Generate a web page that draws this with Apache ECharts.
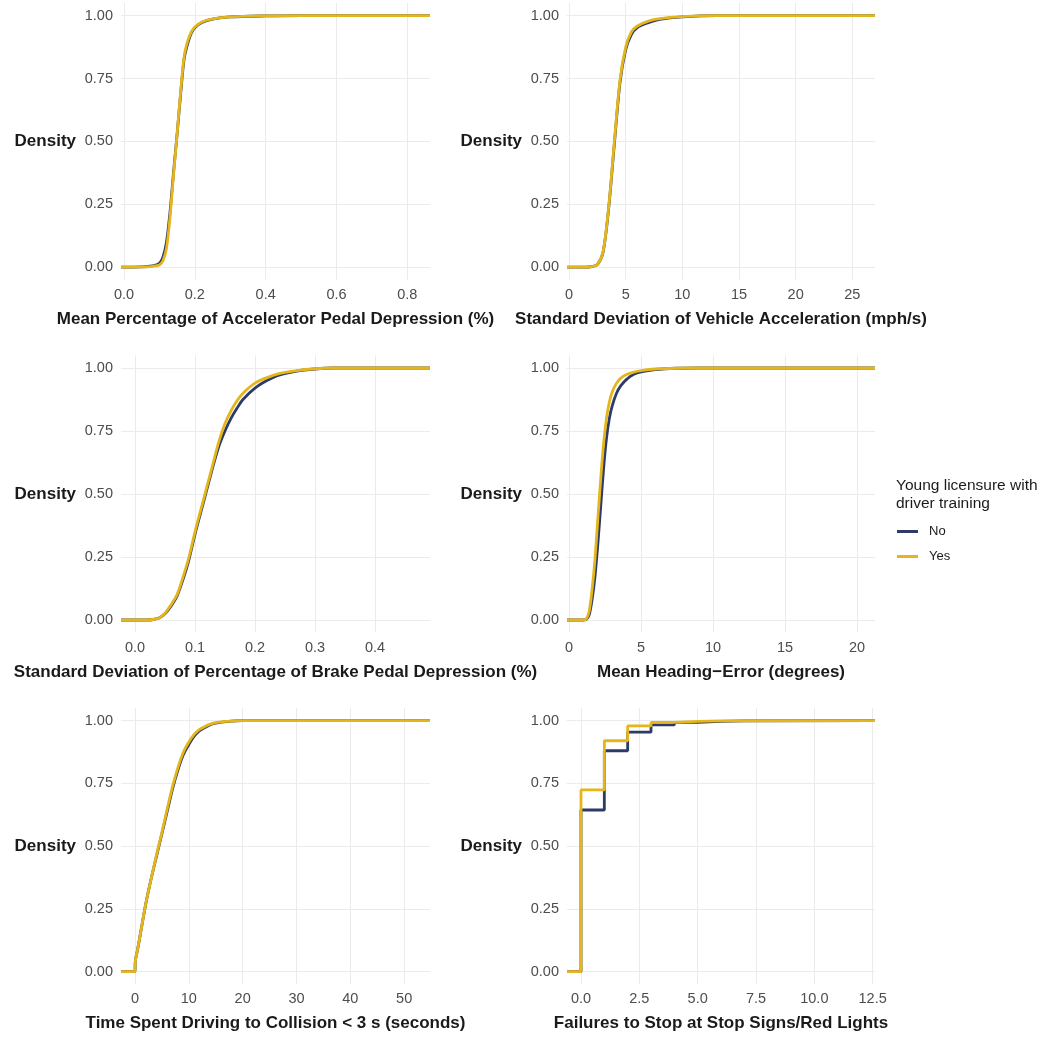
<!DOCTYPE html>
<html>
<head>
<meta charset="utf-8">
<script src="https://cdn.jsdelivr.net/npm/echarts@6/dist/echarts.min.js"></script>
<style>
html, body { margin: 0; padding: 0; background: #fff; }
#chart { width: 1048px; height: 1038px; }
</style>
</head>
<body>
<div id="chart"></div>
<script>
// ECDF readings per measure (x, share of drivers <= x)
var accelX   = [-0.0085, 0.05, 0.08, 0.10, 0.11, 0.12, 0.13, 0.14, 0.15, 0.16, 0.17, 0.18, 0.19, 0.20, 0.22, 0.25, 0.30, 0.40, 0.50, 0.864];
var accelNo  = [0, 0.001, 0.005, 0.015, 0.04, 0.10, 0.22, 0.38, 0.53, 0.69, 0.83, 0.89, 0.93, 0.952, 0.973, 0.986, 0.995, 0.999, 1, 1];
var accelYes = [0, 0.001, 0.003, 0.008, 0.025, 0.075, 0.20, 0.37, 0.53, 0.70, 0.84, 0.90, 0.935, 0.955, 0.975, 0.987, 0.995, 0.999, 1, 1];

var vaccX   = [-0.18, 1.5, 2.0, 2.5, 3.0, 3.5, 4.0, 4.5, 5.0, 5.5, 6.0, 7.0, 8.0, 10, 13, 27];
var vaccNo  = [0, 0, 0.002, 0.01, 0.058, 0.235, 0.49, 0.735, 0.865, 0.925, 0.952, 0.972, 0.985, 0.995, 1, 1];
var vaccYes = [0, 0, 0.002, 0.01, 0.06, 0.24, 0.50, 0.745, 0.875, 0.935, 0.958, 0.978, 0.988, 0.996, 1, 1];

var brakeX   = [-0.0233, 0.02, 0.03, 0.04, 0.05, 0.06, 0.07, 0.08, 0.09, 0.10, 0.11, 0.12, 0.13, 0.14, 0.15, 0.16, 0.17, 0.18, 0.20, 0.22, 0.24, 0.27, 0.30, 0.33, 0.4917];
var brakeNo  = [0, 0, 0.002, 0.008, 0.025, 0.055, 0.095, 0.16, 0.24, 0.34, 0.43, 0.52, 0.61, 0.69, 0.75, 0.80, 0.84, 0.875, 0.92, 0.95, 0.972, 0.988, 0.996, 1, 1];
var brakeYes = [0, 0, 0.002, 0.008, 0.027, 0.06, 0.10, 0.17, 0.25, 0.35, 0.44, 0.53, 0.62, 0.71, 0.78, 0.83, 0.87, 0.90, 0.94, 0.962, 0.978, 0.99, 0.997, 1, 1];

var headX   = [-0.14, 1.0, 1.2, 1.4, 1.6, 1.8, 2.0, 2.2, 2.4, 2.6, 2.8, 3.0, 3.3, 3.6, 4.0, 4.5, 5.0, 6.0, 7.5, 9.0, 21.25];
var headNo  = [0, 0, 0.002, 0.02, 0.08, 0.17, 0.30, 0.45, 0.60, 0.72, 0.80, 0.85, 0.90, 0.93, 0.955, 0.975, 0.985, 0.994, 0.999, 1, 1];
var headYes = [0, 0, 0.004, 0.035, 0.12, 0.24, 0.40, 0.56, 0.70, 0.80, 0.865, 0.905, 0.94, 0.96, 0.974, 0.984, 0.99, 0.996, 0.999, 1, 1];

var ttcX   = [-2.6, 0, 0.05, 0.5, 1, 2, 3, 4, 5, 6, 7, 8, 9, 10, 11, 12, 13, 14, 15, 17, 20, 54.8];
var ttcNo  = [0, 0, 0.04, 0.09, 0.15, 0.27, 0.37, 0.46, 0.55, 0.64, 0.73, 0.805, 0.865, 0.905, 0.938, 0.96, 0.973, 0.984, 0.99, 0.996, 1, 1];
var ttcYes = [0, 0, 0.04, 0.09, 0.15, 0.27, 0.37, 0.465, 0.555, 0.65, 0.74, 0.815, 0.875, 0.915, 0.945, 0.965, 0.977, 0.986, 0.992, 0.997, 1, 1];

var stopX   = [-0.6, 0, 1, 2, 3, 4, 5, 6, 7, 12.6];
var stopNo  = [0, 0.644, 0.88, 0.954, 0.983, 0.993, 0.997, 0.999, 1, 1];
var stopYes = [0, 0.724, 0.92, 0.979, 0.993, 0.997, 0.999, 0.999, 1, 1];

var densityTicks = [0, 0.25, 0.5, 0.75, 1];
var accelTicks = [0, 0.2, 0.4, 0.6, 0.8];
var vaccTicks = [0, 5, 10, 15, 20, 25];
var brakeTicks = [0, 0.1, 0.2, 0.3, 0.4];
var headTicks = [0, 5, 10, 15, 20];
var ttcTicks = [0, 10, 20, 30, 40, 50];
var stopTicks = [0, 2.5, 5, 7.5, 10, 12.5];

var groups = ['No', 'Yes'];
var colors = ['#2c3b68', '#e4b61c'];

var panels = [
    { title: 'Mean Percentage of Accelerator Pedal Depression (%)', x: accelX, no: accelNo, yes: accelYes, min: -0.0085, max: 0.864, ticks: accelTicks, digits: 1 },
    { title: 'Standard Deviation of Vehicle Acceleration (mph/s)', x: vaccX, no: vaccNo, yes: vaccYes, min: -0.18, max: 27, ticks: vaccTicks, digits: 0 },
    { title: 'Standard Deviation of Percentage of Brake Pedal Depression (%)', x: brakeX, no: brakeNo, yes: brakeYes, min: -0.0233, max: 0.4917, ticks: brakeTicks, digits: 1 },
    { title: 'Mean Heading\u2212Error (degrees)', x: headX, no: headNo, yes: headYes, min: -0.14, max: 21.25, ticks: headTicks, digits: 0 },
    { title: 'Time Spent Driving to Collision < 3 s (seconds)', x: ttcX, no: ttcNo, yes: ttcYes, min: -2.6, max: 54.8, ticks: ttcTicks, digits: 0 },
    { title: 'Failures to Stop at Stop Signs/Red Lights', x: stopX, no: stopNo, yes: stopYes, min: -0.6, max: 12.6, ticks: stopTicks, digits: 1, step: true }
];

var colLeft = [121, 567];
var colWidth = [309, 308];
var rowTop = [3.1, 355.4, 708.1];
var rowHeight = [276.5, 277.2, 276.1];

var font = 'Liberation Sans, Arial, sans-serif';
var gridColor = '#ebebeb';

var grids = [], xAxes = [], yAxes = [], series = [];
panels.forEach(function (p, i) {
    var col = i % 2, row = Math.floor(i / 2);
    grids.push({ left: colLeft[col], width: colWidth[col], top: rowTop[row], height: rowHeight[row], containLabel: false });
    xAxes.push({
        type: 'value', gridIndex: i, min: p.min, max: p.max,
        name: p.title, nameLocation: 'middle', nameGap: 31,
        nameTextStyle: { fontFamily: font, fontSize: 17, fontWeight: 'bold', color: '#1a1a1a' },
        axisLine: { show: false },
        axisTick: { show: false, customValues: p.ticks },
        axisLabel: {
            customValues: p.ticks, margin: 7.5, fontFamily: font, fontSize: 14.5, color: '#4d4d4d',
            formatter: function (v) { return v.toFixed(p.digits); }
        },
        splitLine: { show: true, lineStyle: { color: gridColor, width: 1 } }
    });
    yAxes.push({
        type: 'value', gridIndex: i, min: -0.05, max: 1.05,
        name: 'Density', nameLocation: 'middle', nameRotate: 0, nameGap: 45,
        nameTextStyle: { fontFamily: font, fontSize: 17, fontWeight: 'bold', color: '#1a1a1a' },
        axisLine: { show: false },
        axisTick: { show: false, customValues: densityTicks },
        axisLabel: {
            customValues: densityTicks, margin: 8, fontFamily: font, fontSize: 14.5, color: '#4d4d4d',
            formatter: function (v) { return v.toFixed(2); }
        },
        splitLine: { show: true, lineStyle: { color: gridColor, width: 1 } }
    });
    [p.no, p.yes].forEach(function (vals, g) {
        series.push({
            name: groups[g], type: 'line', xAxisIndex: i, yAxisIndex: i,
            data: p.x.map(function (v, j) { return [v, vals[j]]; }),
            showSymbol: false, symbol: 'none',
            smooth: p.step ? false : 0.3,
            step: p.step ? 'end' : false,
            color: colors[g],
            lineStyle: { width: 2.8, color: colors[g] },
            z: 2 + g
        });
    });
});

var myChart = echarts.init(document.getElementById('chart'));
var option = {
    animation: false,
    backgroundColor: '#fff',
    textStyle: { fontFamily: font },
    title: {
        text: 'Young licensure with\ndriver training',
        left: 896, top: 477, padding: 0,
        textStyle: { fontFamily: font, fontSize: 15.5, fontWeight: 'normal', color: '#1a1a1a', lineHeight: 18 }
    },
    legend: {
        data: groups, orient: 'vertical', left: 897, top: 525, padding: 0,
        icon: 'rect', itemWidth: 21, itemHeight: 3, itemGap: 12,
        textStyle: { fontFamily: font, fontSize: 13, color: '#1a1a1a', padding: [0, 0, 0, 6] }
    },
    grid: grids,
    xAxis: xAxes,
    yAxis: yAxes,
    series: series
};
myChart.setOption(option);
</script>
</body>
</html>
